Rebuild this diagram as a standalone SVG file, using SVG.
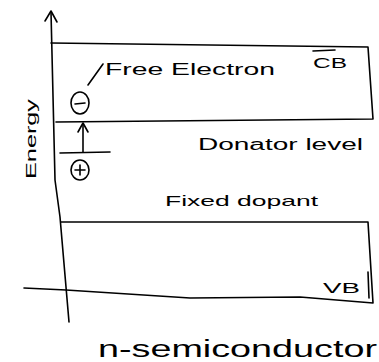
<svg xmlns="http://www.w3.org/2000/svg" width="379" height="362" viewBox="0 0 379 362">
<style>
.ln{fill:none;stroke:#000;stroke-width:1.6;stroke-linecap:round;stroke-linejoin:round}
.t{font-family:"Liberation Sans","DejaVu Sans",sans-serif;fill:#000}
</style>
<rect width="379" height="362" fill="#fff"/>
<g id="axis">
<path class="ln" d="M51,12 L55,180 L60,217 L69,322"/>
<path class="ln" d="M45,21 L51,11 L57,22"/>
<text class="t" font-size="15" transform="translate(36,139) rotate(-90)" text-anchor="middle" textLength="80" lengthAdjust="spacingAndGlyphs">Energy</text>
</g>
<g id="cb-band">
<path class="ln" d="M51,43 L368,47 L373,119 L56,122"/>
<text class="t" font-size="15" x="313" y="68" textLength="34" lengthAdjust="spacingAndGlyphs">CB</text>
<path class="ln" d="M313,51 L335,50"/>
</g>
<g id="free-electron">
<text class="t" font-size="17" x="105" y="75" textLength="170" lengthAdjust="spacingAndGlyphs">Free Electron</text>
<path class="ln" d="M88,85 L103,64"/>
<ellipse class="ln" cx="80" cy="103" rx="9" ry="11"/>
<path class="ln" d="M75,104 L85,103"/>
</g>
<g id="donor-level">
<path class="ln" d="M60,153 L110,152"/>
<text class="t" font-size="16" x="198" y="150" textLength="165" lengthAdjust="spacingAndGlyphs">Donator level</text>
<ellipse class="ln" cx="80" cy="170" rx="9" ry="10"/>
<path class="ln" d="M75,170 L85,170 M80,165 L80,175"/>
</g>
<g id="connectors">
<path class="ln" d="M83,152 L83,124"/>
<path class="ln" d="M78,132 L83,123 L88,132"/>
</g>
<g id="vb-band">
<text class="t" font-size="15" x="165" y="206" textLength="153" lengthAdjust="spacingAndGlyphs">Fixed dopant</text>
<path class="ln" d="M61,222 L368,222 L373,303 L300,297 L190,298 L66,290 L24,288"/>
<path class="ln" d="M368,272 L369,298"/>
<text class="t" font-size="14" x="323" y="293" textLength="37" lengthAdjust="spacingAndGlyphs">VB</text>
</g>
<g id="caption">
<text class="t" font-size="23" x="98" y="357" textLength="279" lengthAdjust="spacingAndGlyphs">n-semiconductor</text>
</g>
</svg>
